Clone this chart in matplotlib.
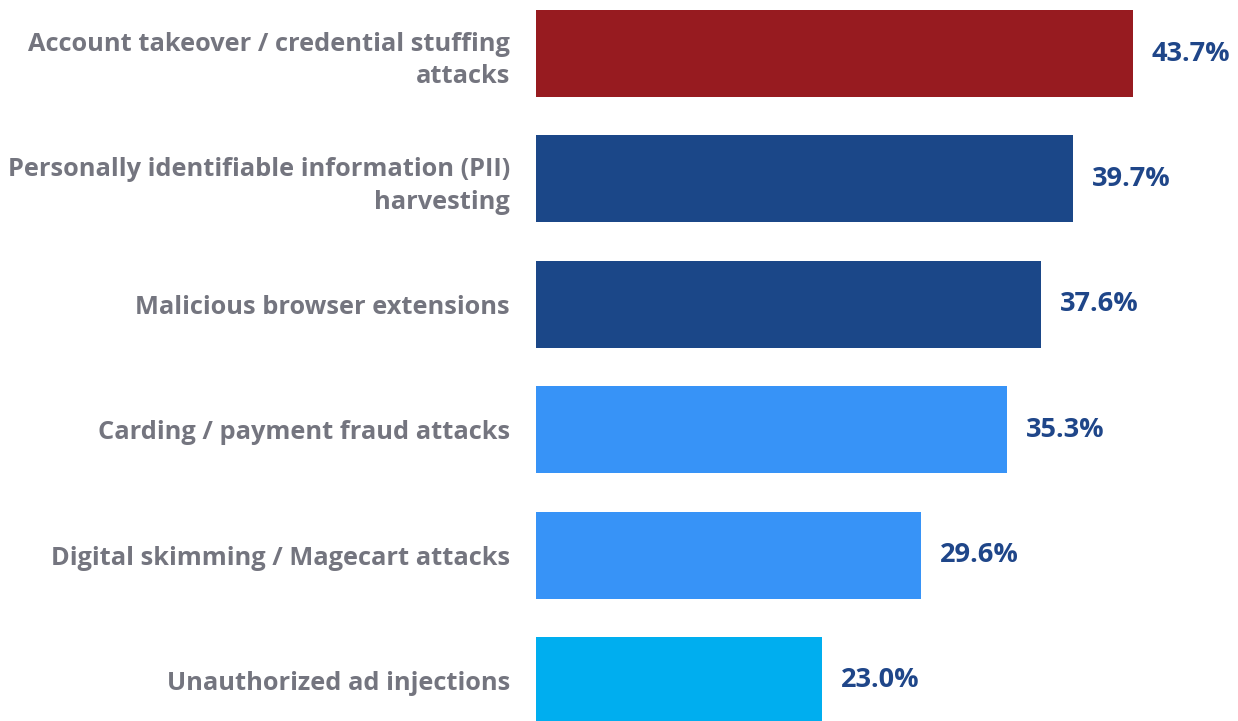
import matplotlib
matplotlib.use("Agg")
import matplotlib.pyplot as plt

categories = [
    "Account takeover / credential stuffing\nattacks",
    "Personally identifiable information (PII)\nharvesting",
    "Malicious browser extensions",
    "Carding / payment fraud attacks",
    "Digital skimming / Magecart attacks",
    "Unauthorized ad injections",
]
values = [43.7, 39.7, 37.6, 35.3, 29.6, 23.0]
colors = ["#971B20", "#1B4788", "#1B4788", "#3793F7", "#3793F7", "#00AEEF"]

plt.rcParams['font.family'] = ['Open Sans', 'DejaVu Sans']

W, H = 1238, 721
fig = plt.figure(figsize=(W / 100, H / 100), dpi=100)
ax = fig.add_axes([536 / W, 0, (W - 536) / W, 1])

y = list(range(len(values)))
ax.barh(y, values, height=0.694, color=colors)

ax.set_xlim(3.96, 50.7)
ax.set_ylim(5.323, -0.427)

ax.set_yticks(y)
ax.set_yticklabels(categories, fontsize=18.3, fontweight='bold', color='#74757F',
                   linespacing=1.4)
ax.tick_params(axis='y', length=0, pad=18.7)
ax.set_xticks([])
for s in ax.spines.values():
    s.set_visible(False)

for yi, v in zip(y, values):
    ax.annotate(f"{v:.1f}%", xy=(v, yi), xytext=(13.7, 0), textcoords='offset points',
                ha='left', va='center', fontsize=19.5, fontweight='bold',
                color='#1F4689')

fig.savefig("out.png", dpi=100)
